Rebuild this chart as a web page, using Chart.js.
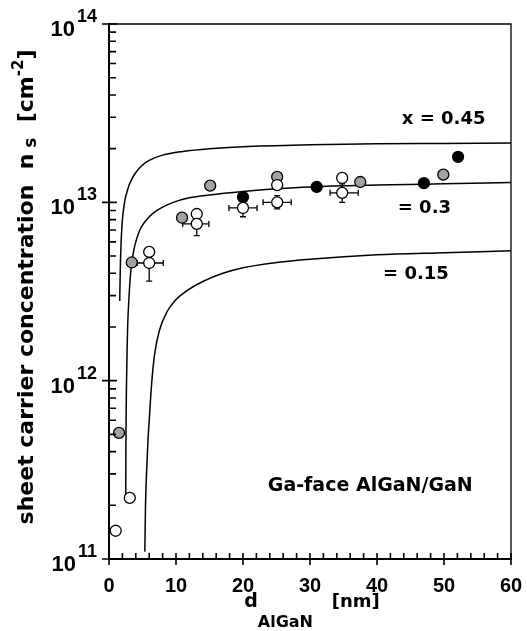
<!DOCTYPE html>
<html><head><meta charset="utf-8">
<script src="https://cdn.jsdelivr.net/npm/chart.js@4.4.1/dist/chart.umd.min.js"></script>
<style>html,body{margin:0;padding:0;background:#fff}canvas{display:block}</style>
</head><body>
<canvas id="c" width="527" height="631"></canvas>
<script>
// ---- axis ticks ----
const xTicks = [0, 10, 20, 30, 40, 50, 60];
const yTicks = [1e11, 1e12, 1e13, 1e14];
const yTickExp = ['11', '12', '13', '14'];

// ---- measured points ----
const grayD = [1.5, 3.4, 10.9, 15.1, 25.1, 37.5, 49.9];
const grayN = [5.1e11, 4.6e12, 8.2e12, 1.24e13, 1.39e13, 1.30e13, 1.43e13];
const blackD = [20.0, 31.0, 47.0, 52.1];
const blackN = [1.07e13, 1.22e13, 1.28e13, 1.80e13];
const whiteD = [1.0, 3.1, 6.0, 13.1, 25.1, 34.8];
const whiteN = [1.44e11, 2.2e11, 5.27e12, 8.6e12, 1.25e13, 1.37e13];
const errD = [6.0, 13.1, 20.0, 25.1, 34.8];
const errN = [4.57e12, 7.57e12, 9.3e12, 1.0e13, 1.13e13];
const errDLow = [4.2, 11.0, 17.9, 23.0, 33.0];
const errDHigh = [8.1, 14.9, 22.1, 27.2, 37.2];
const errNLow = [3.62e12, 6.5e12, 8.3e12, 9.2e12, 1.0e13];
const errNHigh = [5.3e12, 8.6e12, 1.04e13, 1.09e13, 1.27e13];

// ---- theoretical curves ----
const c45D = [1.6, 1.7, 1.8, 1.9, 2.0, 2.2, 2.4, 2.7, 3.0, 3.5, 4.0, 5.0, 6.0, 8, 11, 15, 20, 30, 40, 50, 60];
const c45N = [2.8e12, 4.5e12, 5.9e12, 7.0e12, 8.0e12, 9.3e12, 1.04e13, 1.15e13, 1.25e13, 1.37e13, 1.47e13, 1.62e13, 1.72e13, 1.84e13, 1.93e13, 2.0e13, 2.05e13, 2.1e13, 2.13e13, 2.14e13, 2.15e13];
const c30D = [2.5, 2.52, 2.55, 2.6, 2.7, 2.8, 3.0, 3.2, 3.4, 3.7, 4.0, 4.6, 5.5, 6.6, 8, 9.6, 12, 15, 20, 25, 30, 40, 50, 60];
const c30N = [2.3e11, 4e11, 6e11, 9e11, 1.5e12, 2.1e12, 3.0e12, 3.9e12, 4.6e12, 5.4e12, 6.0e12, 7.0e12, 7.9e12, 8.7e12, 9.4e12, 1.0e13, 1.06e13, 1.1e13, 1.15e13, 1.19e13, 1.22e13, 1.25e13, 1.27e13, 1.29e13];
const c15D = [5.35, 5.45, 5.6, 5.8, 6.0, 6.4, 6.8, 7.5, 8.7, 10, 11.8, 14, 17, 20, 25, 30, 40, 50, 60];
const c15N = [1.1e11, 2e11, 3e11, 4.5e11, 6e11, 1.0e12, 1.4e12, 1.9e12, 2.45e12, 2.85e12, 3.23e12, 3.6e12, 4.0e12, 4.3e12, 4.6e12, 4.8e12, 5.08e12, 5.22e12, 5.35e12];

// ---- texts ----
const curveLabels = ['x = 0.45', '= 0.3', '= 0.15'];
const sampleLabel = 'Ga-face AlGaN/GaN';

// annotation anchors in data coordinates
const annotations = [
  {text: curveLabels[0], d: 43.7, n: 2.92e13, size: 18},
  {text: curveLabels[1], d: 43.1, n: 9.3e12, size: 18},
  {text: curveLabels[2], d: 40.9, n: 3.97e12, size: 18},
  {text: sampleLabel, d: 23.7, n: 2.57e11, size: 19}
];

const pts = (xs, ys) => xs.map((v, i) => ({x: v, y: ys[i]}));
const TXT = '"DejaVu Sans", sans-serif';
const NUM = '"Liberation Sans", Arial, sans-serif';

function drawSegments(ctx, segs, x, y, align) {
  let total = 0;
  segs.forEach(s => { ctx.font = 'bold ' + s.size + 'px ' + (s.fam || TXT); s.w = ctx.measureText(s.t).width + (s.gap || 0); total += s.w; });
  let cx = align === 'center' ? x - total / 2 : (align === 'right' ? x - total : x);
  ctx.textAlign = 'left';
  ctx.textBaseline = 'alphabetic';
  segs.forEach(s => { ctx.font = 'bold ' + s.size + 'px ' + (s.fam || TXT); ctx.fillText(s.t, cx + (s.gap || 0), y + (s.dy || 0)); cx += s.w; });
}

const deco = {
  id: 'deco',
  beforeDatasetsDraw(chart) {
    const ctx = chart.ctx, xs = chart.scales.x, ys = chart.scales.y;
    ctx.save();
    ctx.strokeStyle = '#000';
    ctx.lineWidth = 1.3;
    const cap = 3;
    for (let i = 0; i < errD.length; i++) {
      const px = xs.getPixelForValue(errD[i]);
      const py = ys.getPixelForValue(errN[i]);
      const xl = xs.getPixelForValue(errDLow[i]), xr = xs.getPixelForValue(errDHigh[i]);
      const yl = ys.getPixelForValue(errNLow[i]), yh = ys.getPixelForValue(errNHigh[i]);
      ctx.beginPath();
      ctx.moveTo(xl, py); ctx.lineTo(xr, py);
      ctx.moveTo(xl, py - cap); ctx.lineTo(xl, py + cap);
      ctx.moveTo(xr, py - cap); ctx.lineTo(xr, py + cap);
      ctx.moveTo(px, yl); ctx.lineTo(px, yh);
      ctx.moveTo(px - cap, yl); ctx.lineTo(px + cap, yl);
      ctx.moveTo(px - cap, yh); ctx.lineTo(px + cap, yh);
      ctx.stroke();
    }
    ctx.restore();
  },
  afterDraw(chart) {
    const ctx = chart.ctx, xs = chart.scales.x, ys = chart.scales.y, a = chart.chartArea;
    ctx.save();
    ctx.strokeStyle = '#000';
    ctx.fillStyle = '#000';
    // frame
    ctx.lineWidth = 1.3;
    ctx.beginPath();
    ctx.moveTo(a.left, a.top); ctx.lineTo(a.right, a.top); ctx.lineTo(a.right, a.bottom);
    ctx.stroke();
    ctx.lineWidth = 2;
    ctx.beginPath();
    ctx.moveTo(a.left, a.top - 1); ctx.lineTo(a.left, a.bottom); ctx.lineTo(a.right + 1, a.bottom);
    ctx.stroke();
    // y ticks
    ctx.lineWidth = 1.6;
    ctx.beginPath();
    for (let e = 0; e < yTicks.length; e++) {
      const py = ys.getPixelForValue(yTicks[e]);
      ctx.moveTo(a.left - 7, py); ctx.lineTo(a.left + 8, py);
      if (e < yTicks.length - 1) {
        for (let m = 2; m <= 9; m++) {
          const pm = ys.getPixelForValue(yTicks[e] * m);
          ctx.moveTo(a.left, pm); ctx.lineTo(a.left + 7, pm);
        }
      }
    }
    // x ticks
    for (let v = xTicks[0]; v <= xTicks[xTicks.length - 1]; v += 2) {
      const px = xs.getPixelForValue(v);
      if (v % 10 === 0) { ctx.moveTo(px, a.bottom + 6); ctx.lineTo(px, a.bottom - 6); }
      else { ctx.moveTo(px, a.bottom); ctx.lineTo(px, a.bottom - 6); }
    }
    ctx.stroke();
    // x tick labels
    ctx.font = 'bold 20px ' + NUM;
    ctx.textAlign = 'center';
    ctx.textBaseline = 'alphabetic';
    xTicks.forEach(v => ctx.fillText(String(v), xs.getPixelForValue(v), a.bottom + 33));
    // y tick labels 10^n
    yTicks.forEach((v, i) => {
      const py = ys.getPixelForValue(v);
      drawSegments(ctx, [
        {t: '10', size: 22, fam: NUM},
        {t: yTickExp[i], size: 18, fam: NUM, dy: -14, gap: 2}
      ], 97, py + 12, 'right');
    });
    // x title
    drawSegments(ctx, [
      {t: 'd', size: 19},
      {t: 'AlGaN', size: 16, dy: 20},
      {t: '   [nm]', size: 18}
    ], (a.left + a.right) / 2 + 2, 607, 'center');
    // y title rotated
    ctx.save();
    ctx.translate(33, 287);
    ctx.rotate(-Math.PI / 2);
    drawSegments(ctx, [
      {t: 'sheet carrier concentration  n', size: 22},
      {t: ' s', size: 17, dy: 3},
      {t: '  [cm', size: 22},
      {t: '-2', size: 15, dy: -10},
      {t: ']', size: 22}
    ], 0, 0, 'center');
    ctx.restore();
    // annotations
    annotations.forEach(an => {
      ctx.font = 'bold ' + an.size + 'px ' + TXT;
      ctx.textAlign = 'left';
      ctx.textBaseline = 'middle';
      ctx.fillText(an.text, xs.getPixelForValue(an.d), ys.getPixelForValue(an.n));
    });
    ctx.restore();
  }
};

const curveStyle = {showLine: true, borderColor: '#000', borderWidth: 1.5, pointRadius: 0, fill: false, cubicInterpolationMode: 'monotone', order: 10};
const pointStyle = (bg) => ({showLine: false, pointRadius: 5.5, pointHoverRadius: 5.5, pointBorderWidth: 1.3, pointBorderColor: '#000', pointBackgroundColor: bg, borderColor: '#000', backgroundColor: bg, order: 1});

new Chart(document.getElementById('c'), {
  type: 'scatter',
  data: {
    datasets: [
      Object.assign({label: 'x=0.45', data: pts(c45D, c45N)}, curveStyle),
      Object.assign({label: 'x=0.3', data: pts(c30D, c30N)}, curveStyle),
      Object.assign({label: 'x=0.15', data: pts(c15D, c15N)}, curveStyle),
      Object.assign({label: 'with error', data: pts(errD, errN)}, pointStyle('#ffffff')),
      Object.assign({label: 'white', data: pts(whiteD, whiteN)}, pointStyle('#ffffff')),
      Object.assign({label: 'gray', data: pts(grayD, grayN)}, pointStyle('#a3a3a3')),
      Object.assign({label: 'black', data: pts(blackD, blackN)}, pointStyle('#000000'))
    ]
  },
  options: {
    responsive: false,
    devicePixelRatio: 1,
    animation: false,
    events: [],
    layout: {padding: {left: 109, right: 16, top: 24, bottom: 72}},
    plugins: {legend: {display: false}, tooltip: {enabled: false}},
    scales: {
      x: {type: 'linear', min: 0, max: 60, grid: {display: false}, border: {display: false},
          ticks: {display: false}, afterFit: s => { s.height = 0; }},
      y: {type: 'logarithmic', min: 1e11, max: 1e14, grid: {display: false}, border: {display: false},
          ticks: {display: false}, afterFit: s => { s.width = 0; }}
    }
  },
  plugins: [deco]
});
</script>
</body></html>
